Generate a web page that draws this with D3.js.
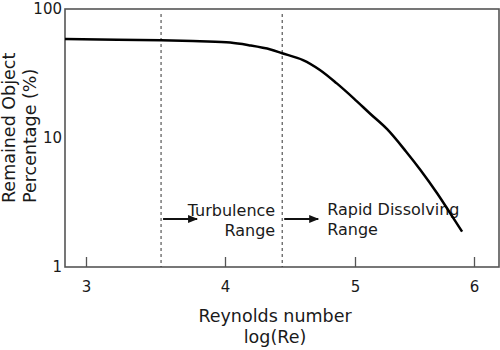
<!DOCTYPE html>
<html>
<head>
<meta charset="utf-8">
<script src="https://cdn.jsdelivr.net/npm/d3@7"></script>
<style>
  html, body { margin: 0; padding: 0; background: #fff; }
  svg { display: block; font-family: "DejaVu Sans", Verdana, sans-serif; }
</style>
</head>
<body>
<svg id="chart" width="500" height="350"></svg>
<script>
// Remained object percentage against log(Re)
const reynoldsLog = [2.85, 3.54, 3.82, 4.04, 4.19, 4.35, 4.44, 4.60, 4.73, 4.86, 4.99, 5.13, 5.27, 5.43, 5.55, 5.69, 5.80, 5.90];
const remainedPct = [58.5, 57.2, 56.2, 54.9, 52.2, 48.6, 45.4, 40.2, 33.7, 26.5, 20.3, 15.35, 11.7, 7.83, 5.65, 3.73, 2.61, 1.88];

// Boundaries of the turbulence and rapid-dissolving ranges
const rangeBounds = [3.54, 4.44];
const rangeLabels = [["Turbulence", "Range"], ["Rapid Dissolving", "Range"]];

const xTicks = [3, 4, 5, 6];
const yTicks = [1, 10, 100];

const svg = d3.select("#chart");
const plotL = 65, plotR = 499, plotT = 9, plotB = 267;

// x axis spacing follows the drawn tick positions
const x = d3.scaleLinear()
  .domain([2.85, 3, 4, 5, 6, 6.21])
  .range([plotL, 86, 225, 355, 474, plotR]);
const y = d3.scaleLog().domain([1, 100]).range([plotB, plotT]);

const axisColor = "#555";
const textColor = "#1a1a1a";

// frame
svg.append("rect")
  .attr("x", plotL).attr("y", plotT)
  .attr("width", plotR - plotL).attr("height", plotB - plotT)
  .attr("fill", "none").attr("stroke", axisColor).attr("stroke-width", 1.6);

// bottom axis with inward ticks
const xAxis = svg.append("g")
  .attr("transform", `translate(0,${plotB})`)
  .call(d3.axisBottom(x).tickValues(xTicks).tickSize(-10).tickPadding(14).tickFormat(d3.format("d")));
xAxis.select(".domain").remove();
xAxis.selectAll(".tick line").attr("stroke", axisColor).attr("stroke-width", 1.3);
xAxis.selectAll(".tick text").attr("font-size", 15).attr("fill", textColor)
  .attr("font-family", "DejaVu Sans, Verdana, sans-serif");

// left axis labels only
const yAxis = svg.append("g")
  .attr("transform", `translate(${plotL},0)`)
  .call(d3.axisLeft(y).tickValues(yTicks).tickSize(0).tickPadding(3).tickFormat(d3.format("d")));
yAxis.select(".domain").remove();
yAxis.selectAll(".tick text").attr("font-size", 15).attr("fill", textColor)
  .attr("font-family", "DejaVu Sans, Verdana, sans-serif");

// range boundaries
svg.selectAll(".bound").data(rangeBounds).enter().append("line")
  .attr("class", "bound")
  .attr("x1", d => x(d)).attr("x2", d => x(d))
  .attr("y1", 14).attr("y2", plotB)
  .attr("stroke", "#333").attr("stroke-width", 1).attr("stroke-dasharray", "3,3");

// arrow marker
svg.append("defs").append("marker")
  .attr("id", "arrow").attr("viewBox", "0 0 10 10")
  .attr("refX", 9).attr("refY", 5)
  .attr("markerWidth", 5).attr("markerHeight", 5)
  .attr("markerUnits", "strokeWidth")
  .attr("orient", "auto")
  .append("path").attr("d", "M0,1 L10,5 L0,9 Z").attr("fill", "#111");

svg.selectAll(".arrow").data(rangeBounds).enter().append("line")
  .attr("x1", d => x(d) + 2).attr("x2", d => x(d) + 36)
  .attr("y1", 219).attr("y2", 219)
  .attr("stroke", "#111").attr("stroke-width", 2)
  .attr("marker-end", "url(#arrow)");

// range labels
const lbl1 = svg.append("text").attr("font-size", 16).attr("fill", textColor)
  .attr("text-anchor", "end");
lbl1.append("tspan").attr("x", x(rangeBounds[1]) - 7).attr("y", 216).text(rangeLabels[0][0]);
lbl1.append("tspan").attr("x", x(rangeBounds[1]) - 7).attr("y", 236).text(rangeLabels[0][1]);

const lbl2 = svg.append("text").attr("font-size", 16).attr("fill", textColor)
  .attr("text-anchor", "start");
lbl2.append("tspan").attr("x", x(rangeBounds[1]) + 45).attr("y", 215).text(rangeLabels[1][0]);
lbl2.append("tspan").attr("x", x(rangeBounds[1]) + 45).attr("y", 235).text(rangeLabels[1][1]);

// curve
const pts = reynoldsLog.map((v, i) => [v, remainedPct[i]]);
svg.append("path")
  .datum(pts)
  .attr("fill", "none").attr("stroke", "#000").attr("stroke-width", 2.5)
  .attr("stroke-linecap", "butt")
  .attr("d", d3.line().x(d => x(d[0])).y(d => y(d[1])).curve(d3.curveCatmullRom.alpha(0.5)));

// axis titles
const xt = svg.append("text").attr("font-size", 17.5).attr("fill", textColor).attr("text-anchor", "middle");
xt.append("tspan").attr("x", 275).attr("y", 322).text("Reynolds number");
xt.append("tspan").attr("x", 275).attr("y", 343).text("log(Re)");

const yt = svg.append("text").attr("font-size", 17.5).attr("fill", textColor)
  .attr("text-anchor", "start")
  .attr("transform", "translate(0,203) rotate(-90)");
yt.append("tspan").attr("x", 0).attr("y", 15).text("Remained Object");
yt.append("tspan").attr("x", 0).attr("y", 36).text("Percentage (%)");
</script>
</body>
</html>
